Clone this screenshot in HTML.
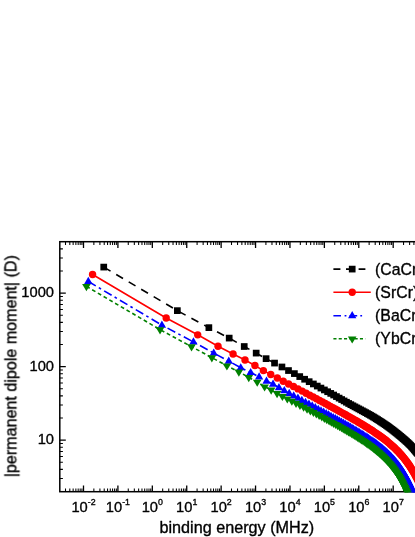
<!DOCTYPE html>
<html><head><meta charset="utf-8"><title>chart</title>
<style>html,body{margin:0;padding:0;background:#fff;}body{width:415px;height:537px;overflow:hidden;font-family:"Liberation Sans",sans-serif;}svg{display:block}</style>
</head><body>
<svg width="415" height="537" viewBox="0 0 415 537">
<rect x="0" y="0" width="415" height="537" fill="#fff"/>
<rect x="59.8" y="241.7" width="357.44155784920235" height="250.0" fill="none" stroke="#000" stroke-width="1.5"/>
<path d="M83.50,491.7 v-6.2 M83.50,241.7 v6.2 M117.91,491.7 v-6.2 M117.91,241.7 v6.2 M152.32,491.7 v-6.2 M152.32,241.7 v6.2 M186.73,491.7 v-6.2 M186.73,241.7 v6.2 M221.14,491.7 v-6.2 M221.14,241.7 v6.2 M255.55,491.7 v-6.2 M255.55,241.7 v6.2 M289.96,491.7 v-6.2 M289.96,241.7 v6.2 M324.37,491.7 v-6.2 M324.37,241.7 v6.2 M358.78,491.7 v-6.2 M358.78,241.7 v6.2 M393.19,491.7 v-6.2 M393.19,241.7 v6.2 M59.8,440.10 h6.0 M59.8,366.60 h6.0 M59.8,293.10 h6.0" stroke="#000" stroke-width="1.3" fill="none"/>
<path d="M65.51,491.7 v-3.2 M65.51,241.7 v3.2 M69.81,491.7 v-3.2 M69.81,241.7 v3.2 M73.14,491.7 v-3.2 M73.14,241.7 v3.2 M75.87,491.7 v-3.2 M75.87,241.7 v3.2 M78.17,491.7 v-3.2 M78.17,241.7 v3.2 M80.17,491.7 v-3.2 M80.17,241.7 v3.2 M81.93,491.7 v-3.2 M81.93,241.7 v3.2 M93.86,491.7 v-3.2 M93.86,241.7 v3.2 M99.92,491.7 v-3.2 M99.92,241.7 v3.2 M104.22,491.7 v-3.2 M104.22,241.7 v3.2 M107.55,491.7 v-3.2 M107.55,241.7 v3.2 M110.28,491.7 v-3.2 M110.28,241.7 v3.2 M112.58,491.7 v-3.2 M112.58,241.7 v3.2 M114.58,491.7 v-3.2 M114.58,241.7 v3.2 M116.34,491.7 v-3.2 M116.34,241.7 v3.2 M128.27,491.7 v-3.2 M128.27,241.7 v3.2 M134.33,491.7 v-3.2 M134.33,241.7 v3.2 M138.63,491.7 v-3.2 M138.63,241.7 v3.2 M141.96,491.7 v-3.2 M141.96,241.7 v3.2 M144.69,491.7 v-3.2 M144.69,241.7 v3.2 M146.99,491.7 v-3.2 M146.99,241.7 v3.2 M148.99,491.7 v-3.2 M148.99,241.7 v3.2 M150.75,491.7 v-3.2 M150.75,241.7 v3.2 M162.68,491.7 v-3.2 M162.68,241.7 v3.2 M168.74,491.7 v-3.2 M168.74,241.7 v3.2 M173.04,491.7 v-3.2 M173.04,241.7 v3.2 M176.37,491.7 v-3.2 M176.37,241.7 v3.2 M179.10,491.7 v-3.2 M179.10,241.7 v3.2 M181.40,491.7 v-3.2 M181.40,241.7 v3.2 M183.40,491.7 v-3.2 M183.40,241.7 v3.2 M185.16,491.7 v-3.2 M185.16,241.7 v3.2 M197.09,491.7 v-3.2 M197.09,241.7 v3.2 M203.15,491.7 v-3.2 M203.15,241.7 v3.2 M207.45,491.7 v-3.2 M207.45,241.7 v3.2 M210.78,491.7 v-3.2 M210.78,241.7 v3.2 M213.51,491.7 v-3.2 M213.51,241.7 v3.2 M215.81,491.7 v-3.2 M215.81,241.7 v3.2 M217.81,491.7 v-3.2 M217.81,241.7 v3.2 M219.57,491.7 v-3.2 M219.57,241.7 v3.2 M231.50,491.7 v-3.2 M231.50,241.7 v3.2 M237.56,491.7 v-3.2 M237.56,241.7 v3.2 M241.86,491.7 v-3.2 M241.86,241.7 v3.2 M245.19,491.7 v-3.2 M245.19,241.7 v3.2 M247.92,491.7 v-3.2 M247.92,241.7 v3.2 M250.22,491.7 v-3.2 M250.22,241.7 v3.2 M252.22,491.7 v-3.2 M252.22,241.7 v3.2 M253.98,491.7 v-3.2 M253.98,241.7 v3.2 M265.91,491.7 v-3.2 M265.91,241.7 v3.2 M271.97,491.7 v-3.2 M271.97,241.7 v3.2 M276.27,491.7 v-3.2 M276.27,241.7 v3.2 M279.60,491.7 v-3.2 M279.60,241.7 v3.2 M282.33,491.7 v-3.2 M282.33,241.7 v3.2 M284.63,491.7 v-3.2 M284.63,241.7 v3.2 M286.63,491.7 v-3.2 M286.63,241.7 v3.2 M288.39,491.7 v-3.2 M288.39,241.7 v3.2 M300.32,491.7 v-3.2 M300.32,241.7 v3.2 M306.38,491.7 v-3.2 M306.38,241.7 v3.2 M310.68,491.7 v-3.2 M310.68,241.7 v3.2 M314.01,491.7 v-3.2 M314.01,241.7 v3.2 M316.74,491.7 v-3.2 M316.74,241.7 v3.2 M319.04,491.7 v-3.2 M319.04,241.7 v3.2 M321.04,491.7 v-3.2 M321.04,241.7 v3.2 M322.80,491.7 v-3.2 M322.80,241.7 v3.2 M334.73,491.7 v-3.2 M334.73,241.7 v3.2 M340.79,491.7 v-3.2 M340.79,241.7 v3.2 M345.09,491.7 v-3.2 M345.09,241.7 v3.2 M348.42,491.7 v-3.2 M348.42,241.7 v3.2 M351.15,491.7 v-3.2 M351.15,241.7 v3.2 M353.45,491.7 v-3.2 M353.45,241.7 v3.2 M355.45,491.7 v-3.2 M355.45,241.7 v3.2 M357.21,491.7 v-3.2 M357.21,241.7 v3.2 M369.14,491.7 v-3.2 M369.14,241.7 v3.2 M375.20,491.7 v-3.2 M375.20,241.7 v3.2 M379.50,491.7 v-3.2 M379.50,241.7 v3.2 M382.83,491.7 v-3.2 M382.83,241.7 v3.2 M385.56,491.7 v-3.2 M385.56,241.7 v3.2 M387.86,491.7 v-3.2 M387.86,241.7 v3.2 M389.86,491.7 v-3.2 M389.86,241.7 v3.2 M391.62,491.7 v-3.2 M391.62,241.7 v3.2 M403.55,491.7 v-3.2 M403.55,241.7 v3.2 M409.61,491.7 v-3.2 M409.61,241.7 v3.2 M413.91,491.7 v-3.2 M413.91,241.7 v3.2 M417.24,491.7 v-3.2 M417.24,241.7 v3.2 M59.8,478.53 h3.1 M59.8,469.35 h3.1 M59.8,462.23 h3.1 M59.8,456.41 h3.1 M59.8,451.49 h3.1 M59.8,447.22 h3.1 M59.8,443.46 h3.1 M59.8,417.97 h3.1 M59.8,405.03 h3.1 M59.8,395.85 h3.1 M59.8,388.73 h3.1 M59.8,382.91 h3.1 M59.8,377.99 h3.1 M59.8,373.72 h3.1 M59.8,369.96 h3.1 M59.8,344.47 h3.1 M59.8,331.53 h3.1 M59.8,322.35 h3.1 M59.8,315.23 h3.1 M59.8,309.41 h3.1 M59.8,304.49 h3.1 M59.8,300.22 h3.1 M59.8,296.46 h3.1 M59.8,270.97 h3.1 M59.8,258.03 h3.1 M59.8,248.85 h3.1" stroke="#000" stroke-width="1.05" fill="none"/>
<defs><clipPath id="cp"><rect x="59.8" y="241.7" width="357.44155784920235" height="250.6"/></clipPath></defs>
<g clip-path="url(#cp)">
<path d="M103.74,267.09 L177.35,310.64 L208.86,327.64 L229.19,338.10 L244.23,346.51 L256.18,353.10 L266.09,358.66 L274.55,363.08 L281.94,366.97 L288.50,370.55 L294.39,373.60 L299.74,376.59 L304.64,379.24 L309.16,381.68 L313.36,383.95 L317.27,386.07 L320.94,388.07 L324.39,389.94 L327.64,391.72 L330.73,393.40 L333.66,395.02 L336.45,396.59 L339.11,398.10 L341.65,399.54 L344.09,400.92 L346.43,402.23 L348.68,403.48 L350.85,404.66 L352.94,405.79 L354.95,406.86 L356.90,407.90 L358.79,408.90 L360.61,409.88 L362.38,410.82 L364.10,411.75 L365.77,412.65 L367.40,413.55 L368.98,414.42 L370.51,415.29 L372.01,416.16 L373.47,417.03 L374.90,417.90 L376.29,418.77 L377.64,419.62 L378.97,420.47 L380.27,421.31 L381.54,422.14 L382.78,422.96 L384.00,423.76 L385.19,424.57 L386.36,425.38 L387.50,426.19 L388.62,427.00 L389.73,427.80 L390.81,428.61 L391.87,429.41 L392.91,430.21 L393.93,431.00 L394.94,431.79 L395.93,432.58 L396.90,433.36 L397.86,434.13 L398.80,434.90 L399.73,435.67 L400.64,436.43 L401.54,437.19 L402.42,437.94 L403.29,438.68 L404.15,439.42 L404.99,440.16 L405.83,440.90 L406.65,441.64 L407.46,442.39 L408.26,443.14 L409.05,443.90 L409.83,444.68 L410.59,445.46 L411.35,446.26 L412.10,447.07 L412.84,447.90 L413.57,448.75 L414.29,449.61 L415.00,450.49 L415.70,451.36 L416.40,452.15 L417.08,452.89 L417.76,453.59 L418.43,454.26 L419.09,454.90 L419.75,455.53 L420.40,456.17 L421.04,456.80 L421.67,457.44 L422.30,458.10 L422.92,458.76 L423.53,459.48 L424.14,460.34 L424.74,461.44 L425.34,462.73 L425.93,464.16 L426.51,465.75 L427.09,467.56 L427.66,469.47 L428.22,471.39 L428.79,473.34 L429.34,475.34 L429.89,477.40" fill="none" stroke="#000000" stroke-width="1.6" stroke-dasharray="7.9 6.6"/>
<rect x="100.39" y="263.74" width="6.7" height="6.7" fill="#000000"/>
<rect x="174.00" y="307.29" width="6.7" height="6.7" fill="#000000"/>
<rect x="205.51" y="324.29" width="6.7" height="6.7" fill="#000000"/>
<rect x="225.84" y="334.75" width="6.7" height="6.7" fill="#000000"/>
<rect x="240.88" y="343.16" width="6.7" height="6.7" fill="#000000"/>
<rect x="252.83" y="349.75" width="6.7" height="6.7" fill="#000000"/>
<rect x="262.74" y="355.31" width="6.7" height="6.7" fill="#000000"/>
<rect x="271.20" y="359.73" width="6.7" height="6.7" fill="#000000"/>
<rect x="278.59" y="363.62" width="6.7" height="6.7" fill="#000000"/>
<rect x="285.15" y="367.20" width="6.7" height="6.7" fill="#000000"/>
<rect x="291.04" y="370.25" width="6.7" height="6.7" fill="#000000"/>
<rect x="296.39" y="373.24" width="6.7" height="6.7" fill="#000000"/>
<rect x="301.29" y="375.89" width="6.7" height="6.7" fill="#000000"/>
<rect x="305.81" y="378.33" width="6.7" height="6.7" fill="#000000"/>
<rect x="310.01" y="380.60" width="6.7" height="6.7" fill="#000000"/>
<rect x="313.92" y="382.72" width="6.7" height="6.7" fill="#000000"/>
<rect x="317.59" y="384.72" width="6.7" height="6.7" fill="#000000"/>
<rect x="321.04" y="386.59" width="6.7" height="6.7" fill="#000000"/>
<rect x="324.29" y="388.37" width="6.7" height="6.7" fill="#000000"/>
<rect x="327.38" y="390.05" width="6.7" height="6.7" fill="#000000"/>
<rect x="330.31" y="391.67" width="6.7" height="6.7" fill="#000000"/>
<rect x="333.10" y="393.24" width="6.7" height="6.7" fill="#000000"/>
<rect x="335.76" y="394.75" width="6.7" height="6.7" fill="#000000"/>
<rect x="338.30" y="396.19" width="6.7" height="6.7" fill="#000000"/>
<rect x="340.74" y="397.57" width="6.7" height="6.7" fill="#000000"/>
<rect x="343.08" y="398.88" width="6.7" height="6.7" fill="#000000"/>
<rect x="345.33" y="400.13" width="6.7" height="6.7" fill="#000000"/>
<rect x="347.50" y="401.31" width="6.7" height="6.7" fill="#000000"/>
<rect x="349.59" y="402.44" width="6.7" height="6.7" fill="#000000"/>
<rect x="351.60" y="403.51" width="6.7" height="6.7" fill="#000000"/>
<rect x="353.55" y="404.55" width="6.7" height="6.7" fill="#000000"/>
<rect x="355.44" y="405.55" width="6.7" height="6.7" fill="#000000"/>
<rect x="357.26" y="406.53" width="6.7" height="6.7" fill="#000000"/>
<rect x="359.03" y="407.47" width="6.7" height="6.7" fill="#000000"/>
<rect x="360.75" y="408.40" width="6.7" height="6.7" fill="#000000"/>
<rect x="362.42" y="409.30" width="6.7" height="6.7" fill="#000000"/>
<rect x="364.05" y="410.20" width="6.7" height="6.7" fill="#000000"/>
<rect x="365.63" y="411.07" width="6.7" height="6.7" fill="#000000"/>
<rect x="367.16" y="411.94" width="6.7" height="6.7" fill="#000000"/>
<rect x="368.66" y="412.81" width="6.7" height="6.7" fill="#000000"/>
<rect x="370.12" y="413.68" width="6.7" height="6.7" fill="#000000"/>
<rect x="371.55" y="414.55" width="6.7" height="6.7" fill="#000000"/>
<rect x="372.94" y="415.42" width="6.7" height="6.7" fill="#000000"/>
<rect x="374.29" y="416.27" width="6.7" height="6.7" fill="#000000"/>
<rect x="375.62" y="417.12" width="6.7" height="6.7" fill="#000000"/>
<rect x="376.92" y="417.96" width="6.7" height="6.7" fill="#000000"/>
<rect x="378.19" y="418.79" width="6.7" height="6.7" fill="#000000"/>
<rect x="379.43" y="419.61" width="6.7" height="6.7" fill="#000000"/>
<rect x="380.65" y="420.41" width="6.7" height="6.7" fill="#000000"/>
<rect x="381.84" y="421.22" width="6.7" height="6.7" fill="#000000"/>
<rect x="383.01" y="422.03" width="6.7" height="6.7" fill="#000000"/>
<rect x="384.15" y="422.84" width="6.7" height="6.7" fill="#000000"/>
<rect x="385.27" y="423.65" width="6.7" height="6.7" fill="#000000"/>
<rect x="386.38" y="424.45" width="6.7" height="6.7" fill="#000000"/>
<rect x="387.46" y="425.26" width="6.7" height="6.7" fill="#000000"/>
<rect x="388.52" y="426.06" width="6.7" height="6.7" fill="#000000"/>
<rect x="389.56" y="426.86" width="6.7" height="6.7" fill="#000000"/>
<rect x="390.58" y="427.65" width="6.7" height="6.7" fill="#000000"/>
<rect x="391.59" y="428.44" width="6.7" height="6.7" fill="#000000"/>
<rect x="392.58" y="429.23" width="6.7" height="6.7" fill="#000000"/>
<rect x="393.55" y="430.01" width="6.7" height="6.7" fill="#000000"/>
<rect x="394.51" y="430.78" width="6.7" height="6.7" fill="#000000"/>
<rect x="395.45" y="431.55" width="6.7" height="6.7" fill="#000000"/>
<rect x="396.38" y="432.32" width="6.7" height="6.7" fill="#000000"/>
<rect x="397.29" y="433.08" width="6.7" height="6.7" fill="#000000"/>
<rect x="398.19" y="433.84" width="6.7" height="6.7" fill="#000000"/>
<rect x="399.07" y="434.59" width="6.7" height="6.7" fill="#000000"/>
<rect x="399.94" y="435.33" width="6.7" height="6.7" fill="#000000"/>
<rect x="400.80" y="436.07" width="6.7" height="6.7" fill="#000000"/>
<rect x="401.64" y="436.81" width="6.7" height="6.7" fill="#000000"/>
<rect x="402.48" y="437.55" width="6.7" height="6.7" fill="#000000"/>
<rect x="403.30" y="438.29" width="6.7" height="6.7" fill="#000000"/>
<rect x="404.11" y="439.04" width="6.7" height="6.7" fill="#000000"/>
<rect x="404.91" y="439.79" width="6.7" height="6.7" fill="#000000"/>
<rect x="405.70" y="440.55" width="6.7" height="6.7" fill="#000000"/>
<rect x="406.48" y="441.33" width="6.7" height="6.7" fill="#000000"/>
<rect x="407.24" y="442.11" width="6.7" height="6.7" fill="#000000"/>
<rect x="408.00" y="442.91" width="6.7" height="6.7" fill="#000000"/>
<rect x="408.75" y="443.72" width="6.7" height="6.7" fill="#000000"/>
<rect x="409.49" y="444.55" width="6.7" height="6.7" fill="#000000"/>
<rect x="410.22" y="445.40" width="6.7" height="6.7" fill="#000000"/>
<rect x="410.94" y="446.26" width="6.7" height="6.7" fill="#000000"/>
<rect x="411.65" y="447.14" width="6.7" height="6.7" fill="#000000"/>
<rect x="412.35" y="448.01" width="6.7" height="6.7" fill="#000000"/>
<rect x="413.05" y="448.80" width="6.7" height="6.7" fill="#000000"/>
<rect x="413.73" y="449.54" width="6.7" height="6.7" fill="#000000"/>
<rect x="414.41" y="450.24" width="6.7" height="6.7" fill="#000000"/>
<rect x="415.08" y="450.91" width="6.7" height="6.7" fill="#000000"/>
<rect x="415.74" y="451.55" width="6.7" height="6.7" fill="#000000"/>
<rect x="416.40" y="452.18" width="6.7" height="6.7" fill="#000000"/>
<rect x="417.05" y="452.82" width="6.7" height="6.7" fill="#000000"/>
<rect x="417.69" y="453.45" width="6.7" height="6.7" fill="#000000"/>
<rect x="418.32" y="454.09" width="6.7" height="6.7" fill="#000000"/>
<rect x="418.95" y="454.75" width="6.7" height="6.7" fill="#000000"/>
<rect x="419.57" y="455.41" width="6.7" height="6.7" fill="#000000"/>
<rect x="420.18" y="456.13" width="6.7" height="6.7" fill="#000000"/>
<rect x="420.79" y="456.99" width="6.7" height="6.7" fill="#000000"/>
<rect x="421.39" y="458.09" width="6.7" height="6.7" fill="#000000"/>
<rect x="421.99" y="459.38" width="6.7" height="6.7" fill="#000000"/>
<rect x="422.58" y="460.81" width="6.7" height="6.7" fill="#000000"/>
<rect x="423.16" y="462.40" width="6.7" height="6.7" fill="#000000"/>
<rect x="423.74" y="464.21" width="6.7" height="6.7" fill="#000000"/>
<rect x="424.31" y="466.12" width="6.7" height="6.7" fill="#000000"/>
<rect x="424.87" y="468.04" width="6.7" height="6.7" fill="#000000"/>
<rect x="425.44" y="469.99" width="6.7" height="6.7" fill="#000000"/>
<rect x="425.99" y="471.99" width="6.7" height="6.7" fill="#000000"/>
<rect x="426.54" y="474.05" width="6.7" height="6.7" fill="#000000"/>
<path d="M92.57,274.48 L166.18,318.02 L197.69,334.83 L218.02,346.23 L233.06,354.03 L245.01,360.00 L254.92,365.55 L263.38,370.59 L270.77,374.49 L277.33,377.96 L283.22,381.30 L288.57,383.99 L293.47,386.51 L297.99,388.88 L302.19,391.11 L306.10,393.21 L309.77,395.18 L313.22,397.04 L316.47,398.79 L319.56,400.46 L322.49,402.04 L325.28,403.56 L327.94,405.00 L330.48,406.39 L332.92,407.72 L335.26,409.01 L337.51,410.25 L339.68,411.45 L341.77,412.60 L343.78,413.73 L345.73,414.82 L347.62,415.88 L349.44,416.92 L351.21,417.93 L352.93,418.92 L354.60,419.88 L356.23,420.82 L357.81,421.75 L359.34,422.66 L360.84,423.55 L362.30,424.43 L363.73,425.29 L365.12,426.15 L366.47,426.99 L367.80,427.82 L369.10,428.64 L370.37,429.45 L371.61,430.26 L372.83,431.05 L374.02,431.84 L375.19,432.63 L376.33,433.41 L377.45,434.19 L378.56,434.96 L379.64,435.73 L380.70,436.49 L381.74,437.26 L382.76,438.02 L383.77,438.79 L384.76,439.55 L385.73,440.31 L386.69,441.07 L387.63,441.84 L388.56,442.60 L389.47,443.37 L390.37,444.14 L391.25,444.91 L392.12,445.69 L392.98,446.47 L393.82,447.25 L394.66,448.04 L395.48,448.84 L396.29,449.63 L397.09,450.44 L397.88,451.25 L398.66,452.06 L399.42,452.88 L400.18,453.71 L400.93,454.55 L401.67,455.39 L402.40,456.24 L403.12,457.10 L403.83,457.97 L404.53,458.85 L405.23,459.74 L405.91,460.63 L406.59,461.54 L407.26,462.45 L407.92,463.38 L408.58,464.31 L409.23,465.26 L409.87,466.22 L410.50,467.19 L411.13,468.17 L411.75,469.17 L412.36,470.17 L412.97,471.19 L413.57,472.22 L414.17,473.27 L414.76,474.32 L415.34,475.40 L415.92,476.48 L416.49,477.58 L417.05,478.70 L417.62,479.83 L418.17,480.97 L418.72,482.13 L419.27,483.31 L419.81,484.50 L420.34,485.71 L420.87,486.93 L421.40,488.17 L421.92,489.43 L422.43,490.70 L422.94,491.99 L423.45,493.30 L423.95,494.63 L424.45,495.98 L424.95,497.34" fill="none" stroke="#ff0000" stroke-width="1.6"/>
<circle cx="92.57" cy="274.48" r="3.7" fill="#ff0000"/>
<circle cx="166.18" cy="318.02" r="3.7" fill="#ff0000"/>
<circle cx="197.69" cy="334.83" r="3.7" fill="#ff0000"/>
<circle cx="218.02" cy="346.23" r="3.7" fill="#ff0000"/>
<circle cx="233.06" cy="354.03" r="3.7" fill="#ff0000"/>
<circle cx="245.01" cy="360.00" r="3.7" fill="#ff0000"/>
<circle cx="254.92" cy="365.55" r="3.7" fill="#ff0000"/>
<circle cx="263.38" cy="370.59" r="3.7" fill="#ff0000"/>
<circle cx="270.77" cy="374.49" r="3.7" fill="#ff0000"/>
<circle cx="277.33" cy="377.96" r="3.7" fill="#ff0000"/>
<circle cx="283.22" cy="381.30" r="3.7" fill="#ff0000"/>
<circle cx="288.57" cy="383.99" r="3.7" fill="#ff0000"/>
<circle cx="293.47" cy="386.51" r="3.7" fill="#ff0000"/>
<circle cx="297.99" cy="388.88" r="3.7" fill="#ff0000"/>
<circle cx="302.19" cy="391.11" r="3.7" fill="#ff0000"/>
<circle cx="306.10" cy="393.21" r="3.7" fill="#ff0000"/>
<circle cx="309.77" cy="395.18" r="3.7" fill="#ff0000"/>
<circle cx="313.22" cy="397.04" r="3.7" fill="#ff0000"/>
<circle cx="316.47" cy="398.79" r="3.7" fill="#ff0000"/>
<circle cx="319.56" cy="400.46" r="3.7" fill="#ff0000"/>
<circle cx="322.49" cy="402.04" r="3.7" fill="#ff0000"/>
<circle cx="325.28" cy="403.56" r="3.7" fill="#ff0000"/>
<circle cx="327.94" cy="405.00" r="3.7" fill="#ff0000"/>
<circle cx="330.48" cy="406.39" r="3.7" fill="#ff0000"/>
<circle cx="332.92" cy="407.72" r="3.7" fill="#ff0000"/>
<circle cx="335.26" cy="409.01" r="3.7" fill="#ff0000"/>
<circle cx="337.51" cy="410.25" r="3.7" fill="#ff0000"/>
<circle cx="339.68" cy="411.45" r="3.7" fill="#ff0000"/>
<circle cx="341.77" cy="412.60" r="3.7" fill="#ff0000"/>
<circle cx="343.78" cy="413.73" r="3.7" fill="#ff0000"/>
<circle cx="345.73" cy="414.82" r="3.7" fill="#ff0000"/>
<circle cx="347.62" cy="415.88" r="3.7" fill="#ff0000"/>
<circle cx="349.44" cy="416.92" r="3.7" fill="#ff0000"/>
<circle cx="351.21" cy="417.93" r="3.7" fill="#ff0000"/>
<circle cx="352.93" cy="418.92" r="3.7" fill="#ff0000"/>
<circle cx="354.60" cy="419.88" r="3.7" fill="#ff0000"/>
<circle cx="356.23" cy="420.82" r="3.7" fill="#ff0000"/>
<circle cx="357.81" cy="421.75" r="3.7" fill="#ff0000"/>
<circle cx="359.34" cy="422.66" r="3.7" fill="#ff0000"/>
<circle cx="360.84" cy="423.55" r="3.7" fill="#ff0000"/>
<circle cx="362.30" cy="424.43" r="3.7" fill="#ff0000"/>
<circle cx="363.73" cy="425.29" r="3.7" fill="#ff0000"/>
<circle cx="365.12" cy="426.15" r="3.7" fill="#ff0000"/>
<circle cx="366.47" cy="426.99" r="3.7" fill="#ff0000"/>
<circle cx="367.80" cy="427.82" r="3.7" fill="#ff0000"/>
<circle cx="369.10" cy="428.64" r="3.7" fill="#ff0000"/>
<circle cx="370.37" cy="429.45" r="3.7" fill="#ff0000"/>
<circle cx="371.61" cy="430.26" r="3.7" fill="#ff0000"/>
<circle cx="372.83" cy="431.05" r="3.7" fill="#ff0000"/>
<circle cx="374.02" cy="431.84" r="3.7" fill="#ff0000"/>
<circle cx="375.19" cy="432.63" r="3.7" fill="#ff0000"/>
<circle cx="376.33" cy="433.41" r="3.7" fill="#ff0000"/>
<circle cx="377.45" cy="434.19" r="3.7" fill="#ff0000"/>
<circle cx="378.56" cy="434.96" r="3.7" fill="#ff0000"/>
<circle cx="379.64" cy="435.73" r="3.7" fill="#ff0000"/>
<circle cx="380.70" cy="436.49" r="3.7" fill="#ff0000"/>
<circle cx="381.74" cy="437.26" r="3.7" fill="#ff0000"/>
<circle cx="382.76" cy="438.02" r="3.7" fill="#ff0000"/>
<circle cx="383.77" cy="438.79" r="3.7" fill="#ff0000"/>
<circle cx="384.76" cy="439.55" r="3.7" fill="#ff0000"/>
<circle cx="385.73" cy="440.31" r="3.7" fill="#ff0000"/>
<circle cx="386.69" cy="441.07" r="3.7" fill="#ff0000"/>
<circle cx="387.63" cy="441.84" r="3.7" fill="#ff0000"/>
<circle cx="388.56" cy="442.60" r="3.7" fill="#ff0000"/>
<circle cx="389.47" cy="443.37" r="3.7" fill="#ff0000"/>
<circle cx="390.37" cy="444.14" r="3.7" fill="#ff0000"/>
<circle cx="391.25" cy="444.91" r="3.7" fill="#ff0000"/>
<circle cx="392.12" cy="445.69" r="3.7" fill="#ff0000"/>
<circle cx="392.98" cy="446.47" r="3.7" fill="#ff0000"/>
<circle cx="393.82" cy="447.25" r="3.7" fill="#ff0000"/>
<circle cx="394.66" cy="448.04" r="3.7" fill="#ff0000"/>
<circle cx="395.48" cy="448.84" r="3.7" fill="#ff0000"/>
<circle cx="396.29" cy="449.63" r="3.7" fill="#ff0000"/>
<circle cx="397.09" cy="450.44" r="3.7" fill="#ff0000"/>
<circle cx="397.88" cy="451.25" r="3.7" fill="#ff0000"/>
<circle cx="398.66" cy="452.06" r="3.7" fill="#ff0000"/>
<circle cx="399.42" cy="452.88" r="3.7" fill="#ff0000"/>
<circle cx="400.18" cy="453.71" r="3.7" fill="#ff0000"/>
<circle cx="400.93" cy="454.55" r="3.7" fill="#ff0000"/>
<circle cx="401.67" cy="455.39" r="3.7" fill="#ff0000"/>
<circle cx="402.40" cy="456.24" r="3.7" fill="#ff0000"/>
<circle cx="403.12" cy="457.10" r="3.7" fill="#ff0000"/>
<circle cx="403.83" cy="457.97" r="3.7" fill="#ff0000"/>
<circle cx="404.53" cy="458.85" r="3.7" fill="#ff0000"/>
<circle cx="405.23" cy="459.74" r="3.7" fill="#ff0000"/>
<circle cx="405.91" cy="460.63" r="3.7" fill="#ff0000"/>
<circle cx="406.59" cy="461.54" r="3.7" fill="#ff0000"/>
<circle cx="407.26" cy="462.45" r="3.7" fill="#ff0000"/>
<circle cx="407.92" cy="463.38" r="3.7" fill="#ff0000"/>
<circle cx="408.58" cy="464.31" r="3.7" fill="#ff0000"/>
<circle cx="409.23" cy="465.26" r="3.7" fill="#ff0000"/>
<circle cx="409.87" cy="466.22" r="3.7" fill="#ff0000"/>
<circle cx="410.50" cy="467.19" r="3.7" fill="#ff0000"/>
<circle cx="411.13" cy="468.17" r="3.7" fill="#ff0000"/>
<circle cx="411.75" cy="469.17" r="3.7" fill="#ff0000"/>
<circle cx="412.36" cy="470.17" r="3.7" fill="#ff0000"/>
<circle cx="412.97" cy="471.19" r="3.7" fill="#ff0000"/>
<circle cx="413.57" cy="472.22" r="3.7" fill="#ff0000"/>
<circle cx="414.17" cy="473.27" r="3.7" fill="#ff0000"/>
<circle cx="414.76" cy="474.32" r="3.7" fill="#ff0000"/>
<circle cx="415.34" cy="475.40" r="3.7" fill="#ff0000"/>
<circle cx="415.92" cy="476.48" r="3.7" fill="#ff0000"/>
<circle cx="416.49" cy="477.58" r="3.7" fill="#ff0000"/>
<circle cx="417.05" cy="478.70" r="3.7" fill="#ff0000"/>
<circle cx="417.62" cy="479.83" r="3.7" fill="#ff0000"/>
<circle cx="418.17" cy="480.97" r="3.7" fill="#ff0000"/>
<circle cx="418.72" cy="482.13" r="3.7" fill="#ff0000"/>
<circle cx="419.27" cy="483.31" r="3.7" fill="#ff0000"/>
<circle cx="419.81" cy="484.50" r="3.7" fill="#ff0000"/>
<circle cx="420.34" cy="485.71" r="3.7" fill="#ff0000"/>
<circle cx="420.87" cy="486.93" r="3.7" fill="#ff0000"/>
<circle cx="421.40" cy="488.17" r="3.7" fill="#ff0000"/>
<circle cx="421.92" cy="489.43" r="3.7" fill="#ff0000"/>
<circle cx="422.43" cy="490.70" r="3.7" fill="#ff0000"/>
<circle cx="422.94" cy="491.99" r="3.7" fill="#ff0000"/>
<circle cx="423.45" cy="493.30" r="3.7" fill="#ff0000"/>
<circle cx="423.95" cy="494.63" r="3.7" fill="#ff0000"/>
<circle cx="424.45" cy="495.98" r="3.7" fill="#ff0000"/>
<circle cx="424.95" cy="497.34" r="3.7" fill="#ff0000"/>
<path d="M88.30,281.44 L161.91,325.13 L193.42,341.90 L213.75,353.08 L228.79,361.11 L240.74,367.77 L250.65,372.52 L259.11,376.84 L266.50,381.05 L273.06,384.03 L278.95,387.57 L284.30,390.64 L289.20,393.38 L293.72,395.87 L297.92,398.17 L301.83,400.30 L305.50,402.29 L308.95,404.17 L312.20,405.94 L315.29,407.63 L318.22,409.23 L321.01,410.75 L323.67,412.21 L326.21,413.61 L328.65,414.96 L330.99,416.25 L333.24,417.50 L335.41,418.71 L337.50,419.87 L339.51,421.00 L341.46,422.10 L343.35,423.17 L345.17,424.21 L346.94,425.23 L348.66,426.22 L350.33,427.19 L351.96,428.14 L353.54,429.07 L355.07,429.98 L356.57,430.88 L358.03,431.76 L359.46,432.63 L360.85,433.49 L362.20,434.34 L363.53,435.17 L364.83,436.00 L366.10,436.82 L367.34,437.63 L368.56,438.44 L369.75,439.24 L370.92,440.04 L372.06,440.83 L373.18,441.62 L374.29,442.41 L375.37,443.19 L376.43,443.97 L377.47,444.76 L378.49,445.54 L379.50,446.33 L380.49,447.11 L381.46,447.90 L382.42,448.69 L383.36,449.49 L384.29,450.28 L385.20,451.09 L386.10,451.89 L386.98,452.71 L387.85,453.53 L388.71,454.35 L389.55,455.18 L390.39,456.02 L391.21,456.87 L392.02,457.73 L392.82,458.59 L393.61,459.47 L394.39,460.35 L395.15,461.25 L395.91,462.15 L396.66,463.07 L397.40,464.00 L398.13,464.94 L398.85,465.89 L399.56,466.86 L400.26,467.84 L400.96,468.83 L401.64,469.84 L402.32,470.87 L402.99,471.91 L403.65,472.96 L404.31,474.04 L404.96,475.12 L405.60,476.23 L406.23,477.36 L406.86,478.50 L407.48,479.66 L408.09,480.84 L408.70,482.04 L409.30,483.26 L409.90,484.50 L410.49,485.76 L411.07,487.04 L411.65,488.34 L412.22,489.67 L412.78,491.02 L413.35,492.39 L413.90,493.78 L414.45,495.20 L415.00,496.64 L415.54,498.11 L416.07,499.61 L416.60,501.13 L417.13,502.67 L417.65,504.24 L418.16,505.84 L418.67,507.47 L419.18,509.12 L419.68,510.81 L420.18,512.52 L420.68,514.26" fill="none" stroke="#0000ff" stroke-width="1.6" stroke-dasharray="8.7 3.5 2.6 3.6"/>
<path d="M84.15,284.04 L92.45,284.04 L88.30,276.84 Z" fill="#0000ff"/>
<path d="M157.76,327.73 L166.06,327.73 L161.91,320.53 Z" fill="#0000ff"/>
<path d="M189.27,344.50 L197.57,344.50 L193.42,337.30 Z" fill="#0000ff"/>
<path d="M209.60,355.68 L217.90,355.68 L213.75,348.48 Z" fill="#0000ff"/>
<path d="M224.64,363.71 L232.94,363.71 L228.79,356.51 Z" fill="#0000ff"/>
<path d="M236.59,370.37 L244.89,370.37 L240.74,363.17 Z" fill="#0000ff"/>
<path d="M246.50,375.12 L254.80,375.12 L250.65,367.92 Z" fill="#0000ff"/>
<path d="M254.96,379.44 L263.26,379.44 L259.11,372.24 Z" fill="#0000ff"/>
<path d="M262.35,383.65 L270.65,383.65 L266.50,376.45 Z" fill="#0000ff"/>
<path d="M268.91,386.63 L277.21,386.63 L273.06,379.43 Z" fill="#0000ff"/>
<path d="M274.80,390.17 L283.10,390.17 L278.95,382.97 Z" fill="#0000ff"/>
<path d="M280.15,393.24 L288.45,393.24 L284.30,386.04 Z" fill="#0000ff"/>
<path d="M285.05,395.98 L293.35,395.98 L289.20,388.78 Z" fill="#0000ff"/>
<path d="M289.57,398.47 L297.87,398.47 L293.72,391.27 Z" fill="#0000ff"/>
<path d="M293.77,400.77 L302.07,400.77 L297.92,393.57 Z" fill="#0000ff"/>
<path d="M297.68,402.90 L305.98,402.90 L301.83,395.70 Z" fill="#0000ff"/>
<path d="M301.35,404.89 L309.65,404.89 L305.50,397.69 Z" fill="#0000ff"/>
<path d="M304.80,406.77 L313.10,406.77 L308.95,399.57 Z" fill="#0000ff"/>
<path d="M308.05,408.54 L316.35,408.54 L312.20,401.34 Z" fill="#0000ff"/>
<path d="M311.14,410.23 L319.44,410.23 L315.29,403.03 Z" fill="#0000ff"/>
<path d="M314.07,411.83 L322.37,411.83 L318.22,404.63 Z" fill="#0000ff"/>
<path d="M316.86,413.35 L325.16,413.35 L321.01,406.15 Z" fill="#0000ff"/>
<path d="M319.52,414.81 L327.82,414.81 L323.67,407.61 Z" fill="#0000ff"/>
<path d="M322.06,416.21 L330.36,416.21 L326.21,409.01 Z" fill="#0000ff"/>
<path d="M324.50,417.56 L332.80,417.56 L328.65,410.36 Z" fill="#0000ff"/>
<path d="M326.84,418.85 L335.14,418.85 L330.99,411.65 Z" fill="#0000ff"/>
<path d="M329.09,420.10 L337.39,420.10 L333.24,412.90 Z" fill="#0000ff"/>
<path d="M331.26,421.31 L339.56,421.31 L335.41,414.11 Z" fill="#0000ff"/>
<path d="M333.35,422.47 L341.65,422.47 L337.50,415.27 Z" fill="#0000ff"/>
<path d="M335.36,423.60 L343.66,423.60 L339.51,416.40 Z" fill="#0000ff"/>
<path d="M337.31,424.70 L345.61,424.70 L341.46,417.50 Z" fill="#0000ff"/>
<path d="M339.20,425.77 L347.50,425.77 L343.35,418.57 Z" fill="#0000ff"/>
<path d="M341.02,426.81 L349.32,426.81 L345.17,419.61 Z" fill="#0000ff"/>
<path d="M342.79,427.83 L351.09,427.83 L346.94,420.63 Z" fill="#0000ff"/>
<path d="M344.51,428.82 L352.81,428.82 L348.66,421.62 Z" fill="#0000ff"/>
<path d="M346.18,429.79 L354.48,429.79 L350.33,422.59 Z" fill="#0000ff"/>
<path d="M347.81,430.74 L356.11,430.74 L351.96,423.54 Z" fill="#0000ff"/>
<path d="M349.39,431.67 L357.69,431.67 L353.54,424.47 Z" fill="#0000ff"/>
<path d="M350.92,432.58 L359.22,432.58 L355.07,425.38 Z" fill="#0000ff"/>
<path d="M352.42,433.48 L360.72,433.48 L356.57,426.28 Z" fill="#0000ff"/>
<path d="M353.88,434.36 L362.18,434.36 L358.03,427.16 Z" fill="#0000ff"/>
<path d="M355.31,435.23 L363.61,435.23 L359.46,428.03 Z" fill="#0000ff"/>
<path d="M356.70,436.09 L365.00,436.09 L360.85,428.89 Z" fill="#0000ff"/>
<path d="M358.05,436.94 L366.35,436.94 L362.20,429.74 Z" fill="#0000ff"/>
<path d="M359.38,437.77 L367.68,437.77 L363.53,430.57 Z" fill="#0000ff"/>
<path d="M360.68,438.60 L368.98,438.60 L364.83,431.40 Z" fill="#0000ff"/>
<path d="M361.95,439.42 L370.25,439.42 L366.10,432.22 Z" fill="#0000ff"/>
<path d="M363.19,440.23 L371.49,440.23 L367.34,433.03 Z" fill="#0000ff"/>
<path d="M364.41,441.04 L372.71,441.04 L368.56,433.84 Z" fill="#0000ff"/>
<path d="M365.60,441.84 L373.90,441.84 L369.75,434.64 Z" fill="#0000ff"/>
<path d="M366.77,442.64 L375.07,442.64 L370.92,435.44 Z" fill="#0000ff"/>
<path d="M367.91,443.43 L376.21,443.43 L372.06,436.23 Z" fill="#0000ff"/>
<path d="M369.03,444.22 L377.33,444.22 L373.18,437.02 Z" fill="#0000ff"/>
<path d="M370.14,445.01 L378.44,445.01 L374.29,437.81 Z" fill="#0000ff"/>
<path d="M371.22,445.79 L379.52,445.79 L375.37,438.59 Z" fill="#0000ff"/>
<path d="M372.28,446.57 L380.58,446.57 L376.43,439.37 Z" fill="#0000ff"/>
<path d="M373.32,447.36 L381.62,447.36 L377.47,440.16 Z" fill="#0000ff"/>
<path d="M374.34,448.14 L382.64,448.14 L378.49,440.94 Z" fill="#0000ff"/>
<path d="M375.35,448.93 L383.65,448.93 L379.50,441.73 Z" fill="#0000ff"/>
<path d="M376.34,449.71 L384.64,449.71 L380.49,442.51 Z" fill="#0000ff"/>
<path d="M377.31,450.50 L385.61,450.50 L381.46,443.30 Z" fill="#0000ff"/>
<path d="M378.27,451.29 L386.57,451.29 L382.42,444.09 Z" fill="#0000ff"/>
<path d="M379.21,452.09 L387.51,452.09 L383.36,444.89 Z" fill="#0000ff"/>
<path d="M380.14,452.88 L388.44,452.88 L384.29,445.68 Z" fill="#0000ff"/>
<path d="M381.05,453.69 L389.35,453.69 L385.20,446.49 Z" fill="#0000ff"/>
<path d="M381.95,454.49 L390.25,454.49 L386.10,447.29 Z" fill="#0000ff"/>
<path d="M382.83,455.31 L391.13,455.31 L386.98,448.11 Z" fill="#0000ff"/>
<path d="M383.70,456.13 L392.00,456.13 L387.85,448.93 Z" fill="#0000ff"/>
<path d="M384.56,456.95 L392.86,456.95 L388.71,449.75 Z" fill="#0000ff"/>
<path d="M385.40,457.78 L393.70,457.78 L389.55,450.58 Z" fill="#0000ff"/>
<path d="M386.24,458.62 L394.54,458.62 L390.39,451.42 Z" fill="#0000ff"/>
<path d="M387.06,459.47 L395.36,459.47 L391.21,452.27 Z" fill="#0000ff"/>
<path d="M387.87,460.33 L396.17,460.33 L392.02,453.13 Z" fill="#0000ff"/>
<path d="M388.67,461.19 L396.97,461.19 L392.82,453.99 Z" fill="#0000ff"/>
<path d="M389.46,462.07 L397.76,462.07 L393.61,454.87 Z" fill="#0000ff"/>
<path d="M390.24,462.95 L398.54,462.95 L394.39,455.75 Z" fill="#0000ff"/>
<path d="M391.00,463.85 L399.30,463.85 L395.15,456.65 Z" fill="#0000ff"/>
<path d="M391.76,464.75 L400.06,464.75 L395.91,457.55 Z" fill="#0000ff"/>
<path d="M392.51,465.67 L400.81,465.67 L396.66,458.47 Z" fill="#0000ff"/>
<path d="M393.25,466.60 L401.55,466.60 L397.40,459.40 Z" fill="#0000ff"/>
<path d="M393.98,467.54 L402.28,467.54 L398.13,460.34 Z" fill="#0000ff"/>
<path d="M394.70,468.49 L403.00,468.49 L398.85,461.29 Z" fill="#0000ff"/>
<path d="M395.41,469.46 L403.71,469.46 L399.56,462.26 Z" fill="#0000ff"/>
<path d="M396.11,470.44 L404.41,470.44 L400.26,463.24 Z" fill="#0000ff"/>
<path d="M396.81,471.43 L405.11,471.43 L400.96,464.23 Z" fill="#0000ff"/>
<path d="M397.49,472.44 L405.79,472.44 L401.64,465.24 Z" fill="#0000ff"/>
<path d="M398.17,473.47 L406.47,473.47 L402.32,466.27 Z" fill="#0000ff"/>
<path d="M398.84,474.51 L407.14,474.51 L402.99,467.31 Z" fill="#0000ff"/>
<path d="M399.50,475.56 L407.80,475.56 L403.65,468.36 Z" fill="#0000ff"/>
<path d="M400.16,476.64 L408.46,476.64 L404.31,469.44 Z" fill="#0000ff"/>
<path d="M400.81,477.72 L409.11,477.72 L404.96,470.52 Z" fill="#0000ff"/>
<path d="M401.45,478.83 L409.75,478.83 L405.60,471.63 Z" fill="#0000ff"/>
<path d="M402.08,479.96 L410.38,479.96 L406.23,472.76 Z" fill="#0000ff"/>
<path d="M402.71,481.10 L411.01,481.10 L406.86,473.90 Z" fill="#0000ff"/>
<path d="M403.33,482.26 L411.63,482.26 L407.48,475.06 Z" fill="#0000ff"/>
<path d="M403.94,483.44 L412.24,483.44 L408.09,476.24 Z" fill="#0000ff"/>
<path d="M404.55,484.64 L412.85,484.64 L408.70,477.44 Z" fill="#0000ff"/>
<path d="M405.15,485.86 L413.45,485.86 L409.30,478.66 Z" fill="#0000ff"/>
<path d="M405.75,487.10 L414.05,487.10 L409.90,479.90 Z" fill="#0000ff"/>
<path d="M406.34,488.36 L414.64,488.36 L410.49,481.16 Z" fill="#0000ff"/>
<path d="M406.92,489.64 L415.22,489.64 L411.07,482.44 Z" fill="#0000ff"/>
<path d="M407.50,490.94 L415.80,490.94 L411.65,483.74 Z" fill="#0000ff"/>
<path d="M408.07,492.27 L416.37,492.27 L412.22,485.07 Z" fill="#0000ff"/>
<path d="M408.63,493.62 L416.93,493.62 L412.78,486.42 Z" fill="#0000ff"/>
<path d="M409.20,494.99 L417.50,494.99 L413.35,487.79 Z" fill="#0000ff"/>
<path d="M409.75,496.38 L418.05,496.38 L413.90,489.18 Z" fill="#0000ff"/>
<path d="M410.30,497.80 L418.60,497.80 L414.45,490.60 Z" fill="#0000ff"/>
<path d="M410.85,499.24 L419.15,499.24 L415.00,492.04 Z" fill="#0000ff"/>
<path d="M411.39,500.71 L419.69,500.71 L415.54,493.51 Z" fill="#0000ff"/>
<path d="M411.92,502.21 L420.22,502.21 L416.07,495.01 Z" fill="#0000ff"/>
<path d="M412.45,503.73 L420.75,503.73 L416.60,496.53 Z" fill="#0000ff"/>
<path d="M412.98,505.27 L421.28,505.27 L417.13,498.07 Z" fill="#0000ff"/>
<path d="M413.50,506.84 L421.80,506.84 L417.65,499.64 Z" fill="#0000ff"/>
<path d="M414.01,508.44 L422.31,508.44 L418.16,501.24 Z" fill="#0000ff"/>
<path d="M414.52,510.07 L422.82,510.07 L418.67,502.87 Z" fill="#0000ff"/>
<path d="M415.03,511.72 L423.33,511.72 L419.18,504.52 Z" fill="#0000ff"/>
<path d="M415.53,513.41 L423.83,513.41 L419.68,506.21 Z" fill="#0000ff"/>
<path d="M416.03,515.12 L424.33,515.12 L420.18,507.92 Z" fill="#0000ff"/>
<path d="M416.53,516.86 L424.83,516.86 L420.68,509.66 Z" fill="#0000ff"/>
<path d="M86.42,286.35 L160.03,329.63 L191.54,346.67 L211.87,357.65 L226.91,365.77 L238.86,371.85 L248.77,377.40 L257.23,381.98 L264.62,386.69 L271.18,389.88 L277.07,393.41 L282.42,396.30 L287.32,398.79 L291.84,401.02 L296.04,403.11 L299.95,405.11 L303.62,407.05 L307.07,408.88 L310.32,410.61 L313.41,412.26 L316.34,413.82 L319.13,415.32 L321.79,416.75 L324.33,418.12 L326.77,419.44 L329.11,420.72 L331.36,421.95 L333.53,423.14 L335.62,424.29 L337.63,425.41 L339.58,426.50 L341.47,427.56 L343.29,428.60 L345.06,429.61 L346.78,430.61 L348.45,431.58 L350.08,432.53 L351.66,433.47 L353.19,434.39 L354.69,435.30 L356.15,436.20 L357.58,437.09 L358.97,437.96 L360.32,438.83 L361.65,439.69 L362.95,440.55 L364.22,441.39 L365.46,442.24 L366.68,443.08 L367.87,443.91 L369.04,444.75 L370.18,445.58 L371.30,446.41 L372.41,447.24 L373.49,448.08 L374.55,448.91 L375.59,449.75 L376.61,450.59 L377.62,451.43 L378.61,452.28 L379.58,453.13 L380.54,453.98 L381.48,454.85 L382.41,455.71 L383.32,456.59 L384.22,457.47 L385.10,458.36 L385.97,459.26 L386.83,460.17 L387.67,461.09 L388.51,462.02 L389.33,462.96 L390.14,463.91 L390.94,464.87 L391.73,465.85 L392.51,466.83 L393.27,467.83 L394.03,468.85 L394.78,469.87 L395.52,470.92 L396.25,471.97 L396.97,473.05 L397.68,474.13 L398.38,475.24 L399.08,476.36 L399.76,477.50 L400.44,478.66 L401.11,479.83 L401.77,481.03 L402.43,482.24 L403.08,483.47 L403.72,484.73 L404.35,486.00 L404.98,487.29 L405.60,488.61 L406.21,489.94 L406.82,491.30 L407.42,492.69 L408.02,494.09 L408.61,495.52 L409.19,496.97 L409.77,498.45 L410.34,499.95 L410.90,501.48 L411.47,503.03 L412.02,504.61 L412.57,506.21 L413.12,507.85 L413.66,509.51 L414.19,511.20 L414.72,512.91 L415.25,514.66 L415.77,516.43 L416.28,518.23 L416.79,520.07 L417.30,521.93 L417.80,523.83 L418.30,525.76 L418.80,527.71" fill="none" stroke="#008000" stroke-width="1.6" stroke-dasharray="3.8 2.85"/>
<path d="M82.12,284.05 L90.72,284.05 L86.42,291.15 Z" fill="#008000"/>
<path d="M155.73,327.33 L164.33,327.33 L160.03,334.43 Z" fill="#008000"/>
<path d="M187.24,344.37 L195.84,344.37 L191.54,351.47 Z" fill="#008000"/>
<path d="M207.57,355.35 L216.17,355.35 L211.87,362.45 Z" fill="#008000"/>
<path d="M222.61,363.47 L231.21,363.47 L226.91,370.57 Z" fill="#008000"/>
<path d="M234.56,369.55 L243.16,369.55 L238.86,376.65 Z" fill="#008000"/>
<path d="M244.47,375.10 L253.07,375.10 L248.77,382.20 Z" fill="#008000"/>
<path d="M252.93,379.68 L261.53,379.68 L257.23,386.78 Z" fill="#008000"/>
<path d="M260.32,384.39 L268.92,384.39 L264.62,391.49 Z" fill="#008000"/>
<path d="M266.88,387.58 L275.48,387.58 L271.18,394.68 Z" fill="#008000"/>
<path d="M272.77,391.11 L281.37,391.11 L277.07,398.21 Z" fill="#008000"/>
<path d="M278.12,394.00 L286.72,394.00 L282.42,401.10 Z" fill="#008000"/>
<path d="M283.02,396.49 L291.62,396.49 L287.32,403.59 Z" fill="#008000"/>
<path d="M287.54,398.72 L296.14,398.72 L291.84,405.82 Z" fill="#008000"/>
<path d="M291.74,400.81 L300.34,400.81 L296.04,407.91 Z" fill="#008000"/>
<path d="M295.65,402.81 L304.25,402.81 L299.95,409.91 Z" fill="#008000"/>
<path d="M299.32,404.75 L307.92,404.75 L303.62,411.85 Z" fill="#008000"/>
<path d="M302.77,406.58 L311.37,406.58 L307.07,413.68 Z" fill="#008000"/>
<path d="M306.02,408.31 L314.62,408.31 L310.32,415.41 Z" fill="#008000"/>
<path d="M309.11,409.96 L317.71,409.96 L313.41,417.06 Z" fill="#008000"/>
<path d="M312.04,411.52 L320.64,411.52 L316.34,418.62 Z" fill="#008000"/>
<path d="M314.83,413.02 L323.43,413.02 L319.13,420.12 Z" fill="#008000"/>
<path d="M317.49,414.45 L326.09,414.45 L321.79,421.55 Z" fill="#008000"/>
<path d="M320.03,415.82 L328.63,415.82 L324.33,422.92 Z" fill="#008000"/>
<path d="M322.47,417.14 L331.07,417.14 L326.77,424.24 Z" fill="#008000"/>
<path d="M324.81,418.42 L333.41,418.42 L329.11,425.52 Z" fill="#008000"/>
<path d="M327.06,419.65 L335.66,419.65 L331.36,426.75 Z" fill="#008000"/>
<path d="M329.23,420.84 L337.83,420.84 L333.53,427.94 Z" fill="#008000"/>
<path d="M331.32,421.99 L339.92,421.99 L335.62,429.09 Z" fill="#008000"/>
<path d="M333.33,423.11 L341.93,423.11 L337.63,430.21 Z" fill="#008000"/>
<path d="M335.28,424.20 L343.88,424.20 L339.58,431.30 Z" fill="#008000"/>
<path d="M337.17,425.26 L345.77,425.26 L341.47,432.36 Z" fill="#008000"/>
<path d="M338.99,426.30 L347.59,426.30 L343.29,433.40 Z" fill="#008000"/>
<path d="M340.76,427.31 L349.36,427.31 L345.06,434.41 Z" fill="#008000"/>
<path d="M342.48,428.31 L351.08,428.31 L346.78,435.41 Z" fill="#008000"/>
<path d="M344.15,429.28 L352.75,429.28 L348.45,436.38 Z" fill="#008000"/>
<path d="M345.78,430.23 L354.38,430.23 L350.08,437.33 Z" fill="#008000"/>
<path d="M347.36,431.17 L355.96,431.17 L351.66,438.27 Z" fill="#008000"/>
<path d="M348.89,432.09 L357.49,432.09 L353.19,439.19 Z" fill="#008000"/>
<path d="M350.39,433.00 L358.99,433.00 L354.69,440.10 Z" fill="#008000"/>
<path d="M351.85,433.90 L360.45,433.90 L356.15,441.00 Z" fill="#008000"/>
<path d="M353.28,434.79 L361.88,434.79 L357.58,441.89 Z" fill="#008000"/>
<path d="M354.67,435.66 L363.27,435.66 L358.97,442.76 Z" fill="#008000"/>
<path d="M356.02,436.53 L364.62,436.53 L360.32,443.63 Z" fill="#008000"/>
<path d="M357.35,437.39 L365.95,437.39 L361.65,444.49 Z" fill="#008000"/>
<path d="M358.65,438.25 L367.25,438.25 L362.95,445.35 Z" fill="#008000"/>
<path d="M359.92,439.09 L368.52,439.09 L364.22,446.19 Z" fill="#008000"/>
<path d="M361.16,439.94 L369.76,439.94 L365.46,447.04 Z" fill="#008000"/>
<path d="M362.38,440.78 L370.98,440.78 L366.68,447.88 Z" fill="#008000"/>
<path d="M363.57,441.61 L372.17,441.61 L367.87,448.71 Z" fill="#008000"/>
<path d="M364.74,442.45 L373.34,442.45 L369.04,449.55 Z" fill="#008000"/>
<path d="M365.88,443.28 L374.48,443.28 L370.18,450.38 Z" fill="#008000"/>
<path d="M367.00,444.11 L375.60,444.11 L371.30,451.21 Z" fill="#008000"/>
<path d="M368.11,444.94 L376.71,444.94 L372.41,452.04 Z" fill="#008000"/>
<path d="M369.19,445.78 L377.79,445.78 L373.49,452.88 Z" fill="#008000"/>
<path d="M370.25,446.61 L378.85,446.61 L374.55,453.71 Z" fill="#008000"/>
<path d="M371.29,447.45 L379.89,447.45 L375.59,454.55 Z" fill="#008000"/>
<path d="M372.31,448.29 L380.91,448.29 L376.61,455.39 Z" fill="#008000"/>
<path d="M373.32,449.13 L381.92,449.13 L377.62,456.23 Z" fill="#008000"/>
<path d="M374.31,449.98 L382.91,449.98 L378.61,457.08 Z" fill="#008000"/>
<path d="M375.28,450.83 L383.88,450.83 L379.58,457.93 Z" fill="#008000"/>
<path d="M376.24,451.68 L384.84,451.68 L380.54,458.78 Z" fill="#008000"/>
<path d="M377.18,452.55 L385.78,452.55 L381.48,459.65 Z" fill="#008000"/>
<path d="M378.11,453.41 L386.71,453.41 L382.41,460.51 Z" fill="#008000"/>
<path d="M379.02,454.29 L387.62,454.29 L383.32,461.39 Z" fill="#008000"/>
<path d="M379.92,455.17 L388.52,455.17 L384.22,462.27 Z" fill="#008000"/>
<path d="M380.80,456.06 L389.40,456.06 L385.10,463.16 Z" fill="#008000"/>
<path d="M381.67,456.96 L390.27,456.96 L385.97,464.06 Z" fill="#008000"/>
<path d="M382.53,457.87 L391.13,457.87 L386.83,464.97 Z" fill="#008000"/>
<path d="M383.37,458.79 L391.97,458.79 L387.67,465.89 Z" fill="#008000"/>
<path d="M384.21,459.72 L392.81,459.72 L388.51,466.82 Z" fill="#008000"/>
<path d="M385.03,460.66 L393.63,460.66 L389.33,467.76 Z" fill="#008000"/>
<path d="M385.84,461.61 L394.44,461.61 L390.14,468.71 Z" fill="#008000"/>
<path d="M386.64,462.57 L395.24,462.57 L390.94,469.67 Z" fill="#008000"/>
<path d="M387.43,463.55 L396.03,463.55 L391.73,470.65 Z" fill="#008000"/>
<path d="M388.21,464.53 L396.81,464.53 L392.51,471.63 Z" fill="#008000"/>
<path d="M388.97,465.53 L397.57,465.53 L393.27,472.63 Z" fill="#008000"/>
<path d="M389.73,466.55 L398.33,466.55 L394.03,473.65 Z" fill="#008000"/>
<path d="M390.48,467.57 L399.08,467.57 L394.78,474.67 Z" fill="#008000"/>
<path d="M391.22,468.62 L399.82,468.62 L395.52,475.72 Z" fill="#008000"/>
<path d="M391.95,469.67 L400.55,469.67 L396.25,476.77 Z" fill="#008000"/>
<path d="M392.67,470.75 L401.27,470.75 L396.97,477.85 Z" fill="#008000"/>
<path d="M393.38,471.83 L401.98,471.83 L397.68,478.93 Z" fill="#008000"/>
<path d="M394.08,472.94 L402.68,472.94 L398.38,480.04 Z" fill="#008000"/>
<path d="M394.78,474.06 L403.38,474.06 L399.08,481.16 Z" fill="#008000"/>
<path d="M395.46,475.20 L404.06,475.20 L399.76,482.30 Z" fill="#008000"/>
<path d="M396.14,476.36 L404.74,476.36 L400.44,483.46 Z" fill="#008000"/>
<path d="M396.81,477.53 L405.41,477.53 L401.11,484.63 Z" fill="#008000"/>
<path d="M397.47,478.73 L406.07,478.73 L401.77,485.83 Z" fill="#008000"/>
<path d="M398.13,479.94 L406.73,479.94 L402.43,487.04 Z" fill="#008000"/>
<path d="M398.78,481.17 L407.38,481.17 L403.08,488.27 Z" fill="#008000"/>
<path d="M399.42,482.43 L408.02,482.43 L403.72,489.53 Z" fill="#008000"/>
<path d="M400.05,483.70 L408.65,483.70 L404.35,490.80 Z" fill="#008000"/>
<path d="M400.68,484.99 L409.28,484.99 L404.98,492.09 Z" fill="#008000"/>
<path d="M401.30,486.31 L409.90,486.31 L405.60,493.41 Z" fill="#008000"/>
<path d="M401.91,487.64 L410.51,487.64 L406.21,494.74 Z" fill="#008000"/>
<path d="M402.52,489.00 L411.12,489.00 L406.82,496.10 Z" fill="#008000"/>
<path d="M403.12,490.39 L411.72,490.39 L407.42,497.49 Z" fill="#008000"/>
<path d="M403.72,491.79 L412.32,491.79 L408.02,498.89 Z" fill="#008000"/>
<path d="M404.31,493.22 L412.91,493.22 L408.61,500.32 Z" fill="#008000"/>
<path d="M404.89,494.67 L413.49,494.67 L409.19,501.77 Z" fill="#008000"/>
<path d="M405.47,496.15 L414.07,496.15 L409.77,503.25 Z" fill="#008000"/>
<path d="M406.04,497.65 L414.64,497.65 L410.34,504.75 Z" fill="#008000"/>
<path d="M406.60,499.18 L415.20,499.18 L410.90,506.28 Z" fill="#008000"/>
<path d="M407.17,500.73 L415.77,500.73 L411.47,507.83 Z" fill="#008000"/>
<path d="M407.72,502.31 L416.32,502.31 L412.02,509.41 Z" fill="#008000"/>
<path d="M408.27,503.91 L416.87,503.91 L412.57,511.01 Z" fill="#008000"/>
<path d="M408.82,505.55 L417.42,505.55 L413.12,512.65 Z" fill="#008000"/>
<path d="M409.36,507.21 L417.96,507.21 L413.66,514.31 Z" fill="#008000"/>
<path d="M409.89,508.90 L418.49,508.90 L414.19,516.00 Z" fill="#008000"/>
<path d="M410.42,510.61 L419.02,510.61 L414.72,517.71 Z" fill="#008000"/>
<path d="M410.95,512.36 L419.55,512.36 L415.25,519.46 Z" fill="#008000"/>
<path d="M411.47,514.13 L420.07,514.13 L415.77,521.23 Z" fill="#008000"/>
<path d="M411.98,515.93 L420.58,515.93 L416.28,523.03 Z" fill="#008000"/>
<path d="M412.49,517.77 L421.09,517.77 L416.79,524.87 Z" fill="#008000"/>
<path d="M413.00,519.63 L421.60,519.63 L417.30,526.73 Z" fill="#008000"/>
<path d="M413.50,521.53 L422.10,521.53 L417.80,528.63 Z" fill="#008000"/>
<path d="M414.00,523.46 L422.60,523.46 L418.30,530.56 Z" fill="#008000"/>
<path d="M414.50,525.41 L423.10,525.41 L418.80,532.51 Z" fill="#008000"/>
</g>
<g opacity="0.999">
<text x="54" y="297.00" font-family="Liberation Sans, sans-serif" stroke="#000" stroke-width="0.35" stroke-linejoin="round" font-size="14.7" text-anchor="end" fill="#000">1000</text>
<text x="54" y="370.50" font-family="Liberation Sans, sans-serif" stroke="#000" stroke-width="0.35" stroke-linejoin="round" font-size="14.7" text-anchor="end" fill="#000">100</text>
<text x="54" y="444.00" font-family="Liberation Sans, sans-serif" stroke="#000" stroke-width="0.35" stroke-linejoin="round" font-size="14.7" text-anchor="end" fill="#000">10</text>
<text x="83.50" y="512.3" font-family="Liberation Sans, sans-serif" stroke="#000" stroke-width="0.35" stroke-linejoin="round" font-size="14.7" text-anchor="middle" fill="#000">10<tspan font-size="8.8" dy="-7.6">-2</tspan></text>
<text x="117.91" y="512.3" font-family="Liberation Sans, sans-serif" stroke="#000" stroke-width="0.35" stroke-linejoin="round" font-size="14.7" text-anchor="middle" fill="#000">10<tspan font-size="8.8" dy="-7.6">-1</tspan></text>
<text x="152.32" y="512.3" font-family="Liberation Sans, sans-serif" stroke="#000" stroke-width="0.35" stroke-linejoin="round" font-size="14.7" text-anchor="middle" fill="#000">10<tspan font-size="8.8" dy="-7.6">0</tspan></text>
<text x="186.73" y="512.3" font-family="Liberation Sans, sans-serif" stroke="#000" stroke-width="0.35" stroke-linejoin="round" font-size="14.7" text-anchor="middle" fill="#000">10<tspan font-size="8.8" dy="-7.6">1</tspan></text>
<text x="221.14" y="512.3" font-family="Liberation Sans, sans-serif" stroke="#000" stroke-width="0.35" stroke-linejoin="round" font-size="14.7" text-anchor="middle" fill="#000">10<tspan font-size="8.8" dy="-7.6">2</tspan></text>
<text x="255.55" y="512.3" font-family="Liberation Sans, sans-serif" stroke="#000" stroke-width="0.35" stroke-linejoin="round" font-size="14.7" text-anchor="middle" fill="#000">10<tspan font-size="8.8" dy="-7.6">3</tspan></text>
<text x="289.96" y="512.3" font-family="Liberation Sans, sans-serif" stroke="#000" stroke-width="0.35" stroke-linejoin="round" font-size="14.7" text-anchor="middle" fill="#000">10<tspan font-size="8.8" dy="-7.6">4</tspan></text>
<text x="324.37" y="512.3" font-family="Liberation Sans, sans-serif" stroke="#000" stroke-width="0.35" stroke-linejoin="round" font-size="14.7" text-anchor="middle" fill="#000">10<tspan font-size="8.8" dy="-7.6">5</tspan></text>
<text x="358.78" y="512.3" font-family="Liberation Sans, sans-serif" stroke="#000" stroke-width="0.35" stroke-linejoin="round" font-size="14.7" text-anchor="middle" fill="#000">10<tspan font-size="8.8" dy="-7.6">6</tspan></text>
<text x="393.19" y="512.3" font-family="Liberation Sans, sans-serif" stroke="#000" stroke-width="0.35" stroke-linejoin="round" font-size="14.7" text-anchor="middle" fill="#000">10<tspan font-size="8.8" dy="-7.6">7</tspan></text>
<text x="236.9" y="533.0" font-family="Liberation Sans, sans-serif" stroke="#000" stroke-width="0.35" stroke-linejoin="round" font-size="16.2" text-anchor="middle" fill="#000">binding energy (MHz)</text>
<text transform="translate(16.4,366.2) rotate(-90)" font-family="Liberation Sans, sans-serif" stroke="#000" stroke-width="0.35" stroke-linejoin="round" font-size="16.1" text-anchor="middle" fill="#000">|permanent dipole moment| (D)</text>
<path d="M333.4,269.10 H365.4" stroke="#000000" stroke-width="1.6" fill="none" stroke-dasharray="7 5.6"/>
<rect x="348.85" y="265.75" width="6.7" height="6.7" fill="#000000"/>
<text x="375.1" y="274.90" font-family="Liberation Sans, sans-serif" stroke="#000" stroke-width="0.35" stroke-linejoin="round" font-size="15.85" fill="#000">(CaCr)</text>
<path d="M333.4,292.30 H370.8" stroke="#ff0000" stroke-width="1.6" fill="none"/>
<circle cx="352.20" cy="292.30" r="3.7" fill="#ff0000"/>
<text x="375.1" y="297.80" font-family="Liberation Sans, sans-serif" stroke="#000" stroke-width="0.35" stroke-linejoin="round" font-size="15.85" fill="#000">(SrCr)</text>
<path d="M333.4,315.70 H365.4" stroke="#0000ff" stroke-width="1.6" fill="none" stroke-dasharray="7.6 3.6 1.8 3.2 7.6 3.1 1.8 30"/>
<path d="M348.05,318.30 L356.35,318.30 L352.20,311.10 Z" fill="#0000ff"/>
<text x="375.1" y="320.90" font-family="Liberation Sans, sans-serif" stroke="#000" stroke-width="0.35" stroke-linejoin="round" font-size="15.85" fill="#000">(BaCr)</text>
<path d="M333.4,338.70 H365.4" stroke="#008000" stroke-width="1.6" fill="none" stroke-dasharray="3.1 2.2"/>
<path d="M347.90,336.40 L356.50,336.40 L352.20,343.50 Z" fill="#008000"/>
<text x="375.1" y="344.00" font-family="Liberation Sans, sans-serif" stroke="#000" stroke-width="0.35" stroke-linejoin="round" font-size="15.85" fill="#000">(YbCr)</text>
</g>
</svg>
</body></html>
